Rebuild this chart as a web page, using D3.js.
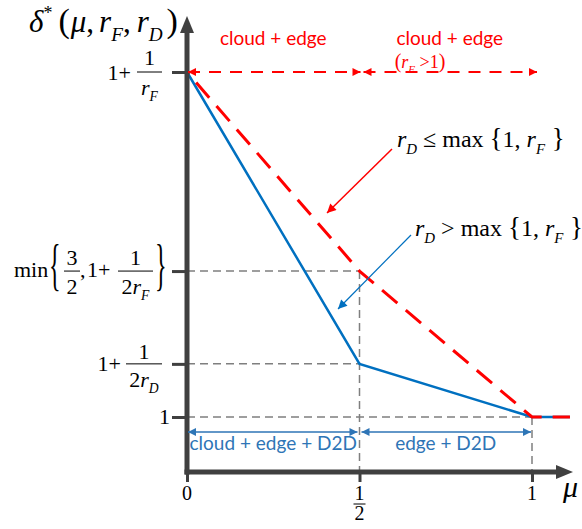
<!DOCTYPE html>
<html><head><meta charset="utf-8">
<script src="https://cdn.jsdelivr.net/npm/d3@7"></script>
<style>body{margin:0;background:#fff}svg{display:block}</style>
</head><body>
<svg id="c" width="582" height="529"></svg>
<script>
// ---- data ----
const muValues = [0, 0.5, 1, 1.11];
const deltaLowRD = [2, 1.423, 1, 1];    // r_D <= max{1, r_F}
const deltaHighRD = [2, 1.154, 1, 1];   // r_D >  max{1, r_F}
const xTickValues = [0, 0.5, 1];
const yTickValues = [1, 1.154, 1.423, 2];
const regionBounds = [0, 0.5, 1];
const topRegionLabels = ["cloud + edge", "cloud + edge"];
const bottomRegionLabels = ["cloud + edge + D2D", "edge + D2D"];

// ---- setup ----
const serif = "'Liberation Serif','Times New Roman',serif";
const sans = "Lato,'Open Sans',sans-serif";
const RED = "#FF0000", BLUE = "#0070C0", LBLUE = "#2E75B6", AXIS = "#404040", GREY = "#7F7F7F";
const svg = d3.select("#c");
const x = d3.scaleLinear().domain([0, 1]).range([187, 532]);
const y = d3.scaleLinear().domain([1, 2]).range([417, 72]);
const axisY = 472;

const defs = svg.append("defs");
function mk(id, color, w, h) {
  defs.append("marker").attr("id", id).attr("viewBox", "0 0 10 10")
    .attr("refX", 10).attr("refY", 5).attr("markerUnits", "userSpaceOnUse")
    .attr("markerWidth", w).attr("markerHeight", h).attr("orient", "auto-start-reverse")
    .append("path").attr("d", "M0,0L10,5L0,10z").attr("fill", color);
}
mk("ar", RED, 10, 8); mk("ab", LBLUE, 10, 8); mk("arp", RED, 11, 9); mk("abp", BLUE, 11, 9);

function rich(parent, xp, yp, parts, o = {}) {
  const fs = o.size || 22;
  const t = parent.append("text").attr("x", xp).attr("y", yp)
    .attr("font-family", o.family || serif).attr("font-size", fs)
    .attr("fill", o.color || "#000").attr("text-anchor", o.anchor || "start");
  let cur = 0;
  parts.forEach(p => {
    if (typeof p === "string") p = { t: p };
    let off = 0, size = p.size;
    if (p.sub) { off = fs * 0.28; size = size || fs * 0.62; }
    if (p.sup) { off = -fs * 0.42; size = size || fs * 0.62; }
    const ts = t.append("tspan").attr("dy", off - cur).text(p.t);
    cur = off;
    if (size) ts.attr("font-size", size);
    if (p.i) ts.attr("font-style", "italic");
    if (p.dx) ts.attr("dx", p.dx);
  });
  return t;
}
function frac(parent, x1, x2, ly, num, den, o = {}) {
  parent.append("line").attr("x1", x1).attr("x2", x2).attr("y1", ly).attr("y2", ly)
    .attr("stroke", o.color || "#000").attr("stroke-width", 1);
  const cx = (x1 + x2) / 2;
  rich(parent, cx, ly - (o.nd || 6), num, { anchor: "middle", size: o.size, color: o.color });
  rich(parent, cx, ly + (o.dd || 23), den, { anchor: "middle", size: o.size, color: o.color });
}
function brace(parent, xp, cy, ch, sy) {
  parent.append("text").attr("transform", `translate(${xp},${cy}) scale(1.1,${sy})`)
    .attr("y", 5).attr("font-family", serif).attr("font-size", 22).text(ch);
}

// ---- guides ----
const guides = svg.append("g").attr("stroke", GREY).attr("stroke-width", 1.5)
  .attr("stroke-dasharray", "8,5").attr("fill", "none");
[[yTickValues[2], 0.5], [yTickValues[1], 0.5], [yTickValues[0], 1]].forEach(([v, m]) => {
  guides.append("line").attr("x1", x(0)).attr("x2", x(m)).attr("y1", y(v)).attr("y2", y(v));
});
guides.append("line").attr("x1", x(0.5)).attr("x2", x(0.5)).attr("y1", y(yTickValues[2])).attr("y2", axisY);
guides.append("line").attr("x1", x(1)).attr("x2", x(1)).attr("y1", y(1)).attr("y2", axisY);

// ---- series ----
const line = d3.line().x((d, i) => x(muValues[i])).y(d => y(d));
svg.append("path").datum(deltaHighRD).attr("d", line).attr("fill", "none")
  .attr("stroke", BLUE).attr("stroke-width", 2.5);
svg.append("path").datum(deltaLowRD).attr("d", line).attr("fill", "none")
  .attr("stroke", RED).attr("stroke-width", 3).attr("stroke-dasharray", "20,11").attr("stroke-dashoffset", -14);

// ---- axes ----
svg.append("line").attr("x1", x(0)).attr("x2", x(0)).attr("y1", axisY + 2.5).attr("y2", 30)
  .attr("stroke", AXIS).attr("stroke-width", 5);
svg.append("path").attr("d", `M${x(0)},16L${x(0) - 7},33L${x(0) + 7},33Z`).attr("fill", AXIS);
svg.append("line").attr("x1", x(0) - 2.5).attr("x2", 560).attr("y1", axisY).attr("y2", axisY)
  .attr("stroke", AXIS).attr("stroke-width", 5);
svg.append("path").attr("d", `M573,${axisY}L556,${axisY - 7}L556,${axisY + 7}Z`).attr("fill", AXIS);

const ya = svg.append("g").attr("transform", `translate(${x(0)},0)`)
  .call(d3.axisLeft(y).tickValues(yTickValues).tickFormat("").tickSize(15).tickSizeOuter(0));
ya.select(".domain").remove();
ya.selectAll(".tick line").attr("stroke", AXIS).attr("stroke-width", 3);
const xa = svg.append("g").attr("transform", `translate(0,${axisY})`)
  .call(d3.axisBottom(x).tickValues(xTickValues).tickFormat("").tickSize(10).tickSizeOuter(0));
xa.select(".domain").remove();
xa.selectAll(".tick line").attr("stroke", AXIS).attr("stroke-width", 3);

// ---- region arrows ----
const ra = svg.append("g");
ra.append("line").attr("x1", x(regionBounds[0]) + 1).attr("x2", x(regionBounds[1]) + 1)
  .attr("y1", y(2)).attr("y2", y(2)).attr("stroke", RED).attr("stroke-width", 2)
  .attr("stroke-dasharray", "12,9").attr("marker-start", "url(#ar)").attr("marker-end", "url(#ar)");
ra.append("line").attr("x1", x(regionBounds[1]) + 4).attr("x2", x(regionBounds[2]) + 5)
  .attr("y1", y(2)).attr("y2", y(2)).attr("stroke", RED).attr("stroke-width", 2)
  .attr("stroke-dasharray", "12,9").attr("marker-start", "url(#ar)").attr("marker-end", "url(#ar)");
const by = y(1) + 15;
ra.append("line").attr("x1", x(regionBounds[0]) + 1).attr("x2", x(regionBounds[1]) - 2)
  .attr("y1", by).attr("y2", by).attr("stroke", LBLUE).attr("stroke-width", 1.5)
  .attr("marker-start", "url(#ab)").attr("marker-end", "url(#ab)");
ra.append("line").attr("x1", x(regionBounds[1]) + 2).attr("x2", x(regionBounds[2]) - 1)
  .attr("y1", by).attr("y2", by).attr("stroke", LBLUE).attr("stroke-width", 1.5)
  .attr("marker-start", "url(#ab)").attr("marker-end", "url(#ab)");

topRegionLabels.forEach((s, i) => {
  svg.append("text").attr("x", x((regionBounds[i] + regionBounds[i + 1]) / 2) + (i ? 4 : 0)).attr("y", 45)
    .attr("text-anchor", "middle").attr("font-family", sans).attr("font-size", 19)
    .attr("fill", RED).text(s);
});
rich(svg, 420, 68, [{ t: "(", size: 20 }, { t: "r", i: 1 }, { t: "F", sub: 1, i: 1, size: 11 }, " >1", { t: ")", size: 20 }],
  { size: 18, color: RED, anchor: "middle" });
bottomRegionLabels.forEach((s, i) => {
  svg.append("text").attr("x", x((regionBounds[i] + regionBounds[i + 1]) / 2)).attr("y", 450)
    .attr("text-anchor", "middle").attr("font-family", sans).attr("font-size", 19)
    .attr("fill", LBLUE).text(s);
});

// ---- annotations ----
svg.append("line").attr("x1", 392).attr("y1", 149).attr("x2", 327).attr("y2", 213)
  .attr("stroke", RED).attr("stroke-width", 1.5).attr("marker-end", "url(#arp)");
svg.append("line").attr("x1", 411).attr("y1", 235).attr("x2", 338).attr("y2", 309)
  .attr("stroke", BLUE).attr("stroke-width", 1.2).attr("marker-end", "url(#abp)");
rich(svg, 397, 147, [{ t: "r", i: 1 }, { t: "D", sub: 1, i: 1 }, " ≤ max ", { t: "{", size: 27 }, "1, ", { t: "r", i: 1 }, { t: "F", sub: 1, i: 1 }, { t: " }", size: 27 }], { size: 24 });
rich(svg, 415, 236, [{ t: "r", i: 1 }, { t: "D", sub: 1, i: 1 }, " > max ", { t: "{", size: 27 }, "1, ", { t: "r", i: 1 }, { t: "F", sub: 1, i: 1 }, { t: " }", size: 27 }], { size: 24 });

// ---- y tick labels ----
const yl = svg.append("g");
let v = y(yTickValues[3]);
rich(yl, 131, v + 8, ["1+"], { anchor: "end" });
frac(yl, 137, 162, v, ["1"], [{ t: "r", i: 1 }, { t: "F", sub: 1, i: 1 }], { nd: 7 });
v = y(yTickValues[2]);
rich(yl, 14, v + 6, ["min"]);
brace(yl, 49, v, "{", 2.6);
frac(yl, 64, 80, v, ["3"], ["2"]);
rich(yl, 80, v + 6, [","]);
rich(yl, 87, v + 6, ["1+"]);
frac(yl, 118, 153, v, ["1"], ["2", { t: "r", i: 1 }, { t: "F", sub: 1, i: 1 }]);
brace(yl, 155, v, "}", 2.6);
v = y(yTickValues[1]);
rich(yl, 121, v + 7, ["1+"], { anchor: "end" });
frac(yl, 126, 162, v, ["1"], ["2", { t: "r", i: 1 }, { t: "D", sub: 1, i: 1 }], { nd: 5 });
v = y(yTickValues[0]);
rich(yl, 170, v + 7, ["1"], { anchor: "end" });

// ---- x tick labels ----
rich(svg, x(xTickValues[0]), 500, ["0"], { anchor: "middle", size: 20 });
rich(svg, x(xTickValues[2]), 500, ["1"], { anchor: "middle", size: 20 });
frac(svg, x(xTickValues[1]) - 6, x(xTickValues[1]) + 6, 504, ["1"], ["2"], { size: 20, nd: 4, dd: 16 });
rich(svg, 563, 497, [{ t: "μ", i: 1 }], { size: 30 });

// ---- y title ----
rich(svg, 29, 32, [{ t: "δ", i: 1 }, { t: "*", sup: 1, size: 18 }, { t: "(", dx: 6, size: 34 }, { t: "μ", i: 1, dx: 1 }, ",", { t: "r", i: 1, dx: 5 },
  { t: "F", sub: 1, i: 1 }, ",", { t: "r", i: 1, dx: 6 }, { t: "D", sub: 1, i: 1 }, { t: ")", dx: 4, size: 34 }], { size: 31 });
</script>
</body></html>
